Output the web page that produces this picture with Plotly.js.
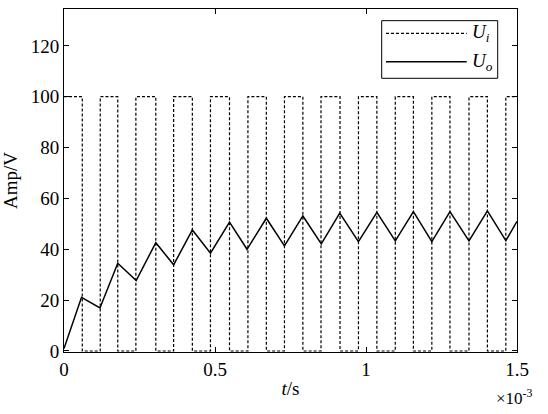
<!DOCTYPE html>
<html>
<head>
<meta charset="utf-8">
<script src="https://cdn.plot.ly/plotly-3.0.1.min.js"></script>
<style>
  html, body { margin: 0; padding: 0; background: #fff; }
  #plotArea { width: 548px; height: 414px; }
</style>
</head>
<body>
<div id="plotArea"></div>
<script>
// time axis in units of 1e-3 s

// input square wave Ui: switching instants and the level held after each one
var uiTime = [0, 0.0605, 0.120, 0.178, 0.238, 0.304, 0.363, 0.425, 0.485, 0.548,
  0.609, 0.670, 0.730, 0.791, 0.851, 0.914, 0.975, 1.036, 1.097, 1.157,
  1.218, 1.278, 1.341, 1.402, 1.463, 1.5];
var uiLevel = [100, 0, 100, 0, 100, 0, 100, 0, 100, 0,
  100, 0, 100, 0, 100, 0, 100, 0, 100, 0,
  100, 0, 100, 0, 100, 100];

// output Uo: peaks and troughs
var uoTime = [0, 0.058, 0.119, 0.178, 0.239, 0.304, 0.363, 0.425, 0.485, 0.548,
  0.606, 0.670, 0.730, 0.791, 0.852, 0.913, 0.975, 1.036, 1.097, 1.157,
  1.218, 1.278, 1.341, 1.402, 1.463, 1.5];
var uoValue = [1, 21.1, 16.9, 34.5, 27.7, 42.6, 33.9, 47.6, 38.5, 50.7,
  40.0, 52.2, 41.3, 53.1, 42.1, 54.2, 43.0, 54.5, 43.3, 54.8,
  43.0, 54.8, 43.3, 55.1, 43.4, 51];

var xTicks = [0, 0.5, 1, 1.5];
var xTickText = ["0", "0.5", "1", "1.5"];
var yTicks = [0, 20, 40, 60, 80, 100, 120];

var serif = "Times New Roman";

var traceUi = {
  x: uiTime,
  y: uiLevel,
  name: "U_i",
  mode: "lines",
  line: {shape: "hv", color: "#000", width: 1.2, dash: "3px,2px"},
  showlegend: false
};

var traceUo = {
  x: uoTime,
  y: uoValue,
  name: "U_o",
  mode: "lines",
  line: {color: "#000", width: 1.5},
  showlegend: false
};

var data = [traceUi, traceUo];

// hand-made legend box in the top right corner
var legX0 = 0.7013, legX1 = 0.9574, legY0 = 0.798, legY1 = 0.966;
var rowY = [0.929, 0.846];

var layout = {
  width: 548,
  height: 414,
  margin: {l: 64, r: 31, t: 9, b: 62},
  paper_bgcolor: "#fff",
  plot_bgcolor: "#fff",
  font: {family: serif, size: 19, color: "#000"},
  xaxis: {
    range: [0, 1.5],
    tickvals: xTicks,
    ticktext: xTickText,
    ticks: "inside",
    ticklen: 5,
    tickcolor: "#000",
    showline: true,
    linecolor: "#000",
    linewidth: 1,
    mirror: "ticks",
    showgrid: false,
    zeroline: false,
    tickfont: {family: serif, size: 19},
    title: {text: "<i>t</i>/s", font: {family: serif, size: 19}, standoff: 2}
  },
  yaxis: {
    range: [-0.4, 134.5],
    tickvals: yTicks,
    ticks: "inside",
    ticklen: 5,
    tickcolor: "#000",
    showline: true,
    linecolor: "#000",
    linewidth: 1,
    mirror: "ticks",
    showgrid: false,
    zeroline: false,
    tickfont: {family: serif, size: 19},
    title: {text: "Amp/V", font: {family: serif, size: 19}}
  },
  annotations: [
    {xref: "paper", yref: "paper", x: 1.04, y: -0.13, xanchor: "right", yanchor: "middle",
      text: "\u00d710<sup>-3</sup>", showarrow: false, font: {family: serif, size: 17}},
    {xref: "paper", yref: "paper", x: 0.896, y: rowY[0], xanchor: "left", yanchor: "middle",
      text: "<i>U</i><sub><i>i</i></sub>", showarrow: false, font: {family: serif, size: 19}},
    {xref: "paper", yref: "paper", x: 0.896, y: rowY[1], xanchor: "left", yanchor: "middle",
      text: "<i>U</i><sub><i>o</i></sub>", showarrow: false, font: {family: serif, size: 19}}
  ],
  shapes: [
    {type: "rect", xref: "paper", yref: "paper", x0: legX0, x1: legX1, y0: legY0, y1: legY1,
      line: {color: "#000", width: 1}, fillcolor: "#fff"},
    {type: "line", xref: "paper", yref: "paper", x0: 0.7108, x1: 0.889, y0: rowY[0], y1: rowY[0],
      line: {color: "#000", width: 1.2, dash: "3px,2px"}},
    {type: "line", xref: "paper", yref: "paper", x0: 0.7108, x1: 0.889, y0: rowY[1], y1: rowY[1],
      line: {color: "#000", width: 1.5}}
  ]
};

Plotly.newPlot("plotArea", data, layout, {displayModeBar: false, staticPlot: true});
</script>
</body>
</html>
